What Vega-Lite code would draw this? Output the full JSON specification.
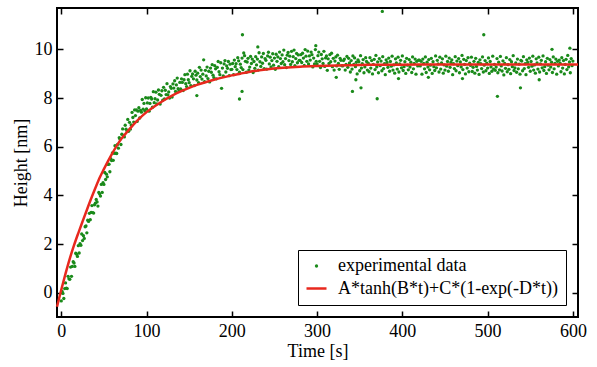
{
"$schema": "https://vega.github.io/schema/vega-lite/v6.json",
"width": 521, "height": 309,
"autosize": {"type": "none"},
"padding": {"left": 57, "top": 8, "right": 19, "bottom": 50},
"background": "white",
"config": {
  "view": {"stroke": "black", "strokeWidth": 2},
  "axis": {"labelFont": "Liberation Serif", "titleFont": "Liberation Serif", "labelFontSize": 18, "titleFontSize": 18, "titleFontWeight": "normal", "labelColor": "black", "titleColor": "black", "tickColor": "black", "tickWidth": 1.5, "grid": false, "domain": false},
  "legend": {"labelFont": "Liberation Serif", "labelFontSize": 18, "labelColor": "black", "labelLimit": 0, "title": null, "orient": "bottom-right", "offset": 12, "strokeColor": "black", "fillColor": "white", "padding": 7, "labelOffset": 10, "rowPadding": 2}
},
"datasets": {
"pts": [
{"t":0,"h":-0.34},{"t":1,"h":0.05},{"t":2,"h":-0.03},{"t":3,"h":-0.24},{"t":4,"h":0.17},{"t":5,"h":0.4},{"t":6,"h":0.19},{"t":7,"h":0.17},{"t":8,"h":0.67},{"t":9,"h":0.57},
{"t":10,"h":0.55},{"t":11,"h":1.05},{"t":12,"h":0.67},{"t":13,"h":1.08},{"t":14,"h":1.27},{"t":15,"h":1.22},{"t":16,"h":1.08},{"t":17,"h":1.62},{"t":18,"h":1.58},{"t":19,"h":1.49},
{"t":20,"h":1.93},{"t":21,"h":1.63},{"t":22,"h":2.01},{"t":23,"h":1.95},{"t":24,"h":2.41},{"t":25,"h":2.14},{"t":26,"h":2.34},{"t":27,"h":2.23},{"t":28,"h":2.71},{"t":29,"h":2.74},
{"t":30,"h":2.46},{"t":31,"h":2.98},{"t":32,"h":2.93},{"t":33,"h":3.26},{"t":34,"h":3.0},{"t":35,"h":3.3},{"t":36,"h":3.58},{"t":37,"h":3.29},{"t":38,"h":3.27},{"t":39,"h":3.61},
{"t":40,"h":3.68},{"t":41,"h":3.83},{"t":42,"h":3.73},{"t":43,"h":3.56},{"t":44,"h":4.12},{"t":45,"h":4.06},{"t":46,"h":3.97},{"t":47,"h":4.45},{"t":48,"h":4.12},{"t":49,"h":4.52},
{"t":50,"h":4.45},{"t":51,"h":4.94},{"t":52,"h":4.65},{"t":53,"h":4.87},{"t":54,"h":4.76},{"t":55,"h":5.27},{"t":56,"h":5.28},{"t":57,"h":4.97},{"t":58,"h":5.51},{"t":59,"h":5.43},
{"t":60,"h":5.74},{"t":61,"h":5.44},{"t":62,"h":5.73},{"t":63,"h":6.04},{"t":64,"h":5.73},{"t":65,"h":5.72},{"t":66,"h":6.09},{"t":67,"h":5.94},{"t":68,"h":6.37},{"t":69,"h":6.31},
{"t":70,"h":6.09},{"t":71,"h":6.51},{"t":72,"h":6.73},{"t":73,"h":6.46},{"t":74,"h":6.4},{"t":75,"h":6.88},{"t":76,"h":6.72},{"t":77,"h":6.66},{"t":78,"h":7.12},{"t":79,"h":6.63},
{"t":80,"h":7.0},{"t":81,"h":6.72},{"t":82,"h":6.89},{"t":83,"h":7.41},{"t":84,"h":7.2},{"t":85,"h":7.01},{"t":86,"h":7.51},{"t":87,"h":7.28},{"t":88,"h":7.51},{"t":89,"h":7.04},
{"t":90,"h":7.46},{"t":91,"h":7.6},{"t":92,"h":7.18},{"t":93,"h":7.49},{"t":94,"h":7.42},{"t":95,"h":7.94},{"t":96,"h":7.54},{"t":97,"h":7.78},{"t":98,"h":7.47},{"t":99,"h":8.01},
{"t":100,"h":7.55},{"t":101,"h":7.8},{"t":102,"h":8.0},{"t":103,"h":7.46},{"t":104,"h":7.78},{"t":105,"h":8.03},{"t":106,"h":7.96},{"t":107,"h":7.62},{"t":108,"h":8.26},{"t":109,"h":7.81},
{"t":110,"h":7.97},{"t":111,"h":8.24},{"t":112,"h":7.76},{"t":113,"h":7.92},{"t":114,"h":8.33},{"t":115,"h":8.15},{"t":116,"h":7.75},{"t":117,"h":8.11},{"t":118,"h":8.3},{"t":119,"h":7.91},
{"t":120,"h":8.44},{"t":121,"h":7.96},{"t":122,"h":8.32},{"t":123,"h":8.14},{"t":124,"h":8.59},{"t":125,"h":8.13},{"t":126,"h":8.25},{"t":127,"h":8.0},{"t":128,"h":8.47},{"t":129,"h":8.4},
{"t":130,"h":8.04},{"t":131,"h":8.58},{"t":132,"h":8.41},{"t":133,"h":8.71},{"t":134,"h":8.27},{"t":135,"h":8.54},{"t":136,"h":8.82},{"t":137,"h":8.38},{"t":138,"h":8.28},{"t":139,"h":8.64},
{"t":140,"h":8.37},{"t":141,"h":8.79},{"t":142,"h":8.64},{"t":143,"h":8.31},{"t":144,"h":8.75},{"t":145,"h":8.96},{"t":146,"h":8.59},{"t":147,"h":8.47},{"t":148,"h":8.98},{"t":149,"h":8.75},
{"t":150,"h":8.63},{"t":151,"h":9.12},{"t":152,"h":8.51},{"t":153,"h":8.89},{"t":154,"h":8.99},{"t":155,"h":8.79},{"t":156,"h":8.51},{"t":157,"h":9.1},{"t":158,"h":8.94},{"t":159,"h":8.74},
{"t":160,"h":9.02},{"t":161,"h":8.63},{"t":162,"h":9.26},{"t":163,"h":8.88},{"t":164,"h":9.15},{"t":165,"h":8.78},{"t":166,"h":8.98},{"t":167,"h":9.57},{"t":168,"h":8.67},{"t":169,"h":9.14},
{"t":170,"h":8.91},{"t":171,"h":9.27},{"t":172,"h":8.8},{"t":173,"h":9.1},{"t":174,"h":8.66},{"t":175,"h":9.23},{"t":176,"h":9.06},{"t":177,"h":9.37},{"t":178,"h":8.94},{"t":179,"h":8.84},
{"t":180,"h":9.33},{"t":181,"h":9.2},{"t":182,"h":8.79},{"t":183,"h":9.26},{"t":184,"h":9.5},{"t":185,"h":9.08},{"t":186,"h":8.96},{"t":187,"h":9.45},{"t":188,"h":8.4},{"t":189,"h":9.23},
{"t":190,"h":8.91},{"t":191,"h":9.4},{"t":192,"h":9.54},{"t":193,"h":9.07},{"t":194,"h":9.32},{"t":195,"h":9.22},{"t":196,"h":9.5},{"t":197,"h":8.92},{"t":198,"h":9.39},{"t":199,"h":9.17},
{"t":200,"h":9.18},{"t":201,"h":9.42},{"t":202,"h":8.96},{"t":203,"h":9.56},{"t":204,"h":9.29},{"t":205,"h":9.41},{"t":206,"h":9.17},{"t":207,"h":9.66},{"t":208,"h":9.53},{"t":209,"h":9.06},
{"t":210,"h":9.39},{"t":211,"h":9.25},{"t":212,"h":9.64},{"t":213,"h":9.17},{"t":214,"h":9.85},{"t":215,"h":9.74},{"t":216,"h":9.51},{"t":217,"h":9.06},{"t":218,"h":9.48},{"t":219,"h":9.63},
{"t":220,"h":9.15},{"t":221,"h":9.27},{"t":222,"h":9.71},{"t":223,"h":9.42},{"t":224,"h":9.6},{"t":225,"h":9.05},{"t":226,"h":9.5},{"t":227,"h":9.22},{"t":228,"h":9.7},{"t":229,"h":9.36},
{"t":230,"h":9.6},{"t":231,"h":9.15},{"t":232,"h":9.86},{"t":233,"h":9.49},{"t":234,"h":9.3},{"t":235,"h":9.69},{"t":236,"h":9.43},{"t":237,"h":9.83},{"t":238,"h":9.21},{"t":239,"h":9.62},
{"t":240,"h":9.55},{"t":241,"h":9.19},{"t":242,"h":9.73},{"t":243,"h":9.88},{"t":244,"h":9.4},{"t":245,"h":9.68},{"t":246,"h":9.28},{"t":247,"h":9.54},{"t":248,"h":9.82},{"t":249,"h":9.35},
{"t":250,"h":9.64},{"t":251,"h":9.18},{"t":252,"h":9.8},{"t":253,"h":9.51},{"t":254,"h":9.69},{"t":255,"h":9.29},{"t":256,"h":9.89},{"t":257,"h":9.62},{"t":258,"h":9.42},{"t":259,"h":9.77},
{"t":260,"h":9.49},{"t":261,"h":9.97},{"t":262,"h":9.37},{"t":263,"h":9.62},{"t":264,"h":9.25},{"t":265,"h":9.76},{"t":266,"h":9.87},{"t":267,"h":9.54},{"t":268,"h":9.72},{"t":269,"h":9.38},
{"t":270,"h":9.92},{"t":271,"h":9.49},{"t":272,"h":9.7},{"t":273,"h":9.97},{"t":274,"h":9.33},{"t":275,"h":9.62},{"t":276,"h":9.83},{"t":277,"h":9.45},{"t":278,"h":9.77},{"t":279,"h":9.55},
{"t":280,"h":9.55},{"t":281,"h":9.78},{"t":282,"h":9.46},{"t":283,"h":9.84},{"t":284,"h":9.64},{"t":285,"h":9.34},{"t":286,"h":9.99},{"t":287,"h":9.72},{"t":288,"h":9.51},{"t":289,"h":9.93},
{"t":290,"h":9.4},{"t":291,"h":9.73},{"t":292,"h":9.56},{"t":293,"h":9.89},{"t":294,"h":9.78},{"t":295,"h":9.28},{"t":296,"h":9.64},{"t":297,"h":9.4},{"t":298,"h":9.99},{"t":299,"h":9.51},
{"t":300,"h":9.4},{"t":301,"h":9.74},{"t":302,"h":9.89},{"t":303,"h":9.51},{"t":304,"h":9.25},{"t":305,"h":9.79},{"t":306,"h":9.61},{"t":307,"h":9.42},{"t":308,"h":9.92},{"t":309,"h":9.3},
{"t":310,"h":9.65},{"t":311,"h":9.73},{"t":312,"h":9.14},{"t":313,"h":9.61},{"t":314,"h":9.42},{"t":315,"h":9.78},{"t":316,"h":9.49},{"t":317,"h":9.84},{"t":318,"h":9.29},{"t":319,"h":9.63},
{"t":320,"h":9.15},{"t":321,"h":9.52},{"t":322,"h":9.69},{"t":323,"h":9.32},{"t":324,"h":9.76},{"t":325,"h":9.42},{"t":326,"h":9.18},{"t":327,"h":9.63},{"t":328,"h":9.55},{"t":329,"h":9.33},
{"t":330,"h":9.32},{"t":331,"h":9.54},{"t":332,"h":9.6},{"t":333,"h":9.15},{"t":334,"h":9.38},{"t":335,"h":9.71},{"t":336,"h":9.26},{"t":337,"h":9.63},{"t":338,"h":9.44},{"t":339,"h":9.07},
{"t":340,"h":9.54},{"t":341,"h":9.19},{"t":342,"h":9.73},{"t":343,"h":9.38},{"t":344,"h":9.65},{"t":345,"h":9.29},{"t":346,"h":9.47},{"t":347,"h":8.99},{"t":348,"h":9.57},{"t":349,"h":9.49},
{"t":350,"h":9.12},{"t":351,"h":9.74},{"t":352,"h":9.23},{"t":353,"h":9.41},{"t":354,"h":9.58},{"t":355,"h":9.04},{"t":356,"h":9.28},{"t":357,"h":9.66},{"t":358,"h":9.5},{"t":359,"h":9.15},
{"t":360,"h":9.43},{"t":361,"h":9.08},{"t":362,"h":9.66},{"t":363,"h":9.23},{"t":364,"h":9.54},{"t":365,"h":8.99},{"t":366,"h":9.38},{"t":367,"h":9.59},{"t":368,"h":9.17},{"t":369,"h":9.75},
{"t":370,"h":9.28},{"t":371,"h":9.48},{"t":372,"h":9.04},{"t":373,"h":9.62},{"t":374,"h":9.33},{"t":375,"h":9.52},{"t":376,"h":9.12},{"t":377,"h":9.7},{"t":378,"h":9.21},{"t":379,"h":9.41},
{"t":380,"h":8.96},{"t":381,"h":9.57},{"t":382,"h":9.46},{"t":383,"h":9.26},{"t":384,"h":9.64},{"t":385,"h":9.1},{"t":386,"h":9.5},{"t":387,"h":9.31},{"t":388,"h":9.72},{"t":389,"h":9.15},
{"t":390,"h":9.36},{"t":391,"h":9.02},{"t":392,"h":9.61},{"t":393,"h":9.44},{"t":394,"h":9.19},{"t":395,"h":9.68},{"t":396,"h":9.07},{"t":397,"h":9.4},{"t":398,"h":9.55},{"t":399,"h":9.24},
{"t":400,"h":9.73},{"t":401,"h":9.13},{"t":402,"h":9.29},{"t":403,"h":9.49},{"t":404,"h":9.01},{"t":405,"h":9.63},{"t":406,"h":9.35},{"t":407,"h":9.16},{"t":408,"h":9.58},{"t":409,"h":9.27},
{"t":410,"h":9.47},{"t":411,"h":9.05},{"t":412,"h":9.69},{"t":413,"h":9.2},{"t":414,"h":9.42},{"t":415,"h":9.6},{"t":416,"h":8.98},{"t":417,"h":9.51},{"t":418,"h":9.32},{"t":419,"h":9.56},
{"t":420,"h":9.56},{"t":421,"h":9.32},{"t":422,"h":9.51},{"t":423,"h":8.98},{"t":424,"h":9.6},{"t":425,"h":9.42},{"t":426,"h":9.2},{"t":427,"h":9.69},{"t":428,"h":9.05},{"t":429,"h":9.47},
{"t":430,"h":9.27},{"t":431,"h":9.58},{"t":432,"h":9.16},{"t":433,"h":9.35},{"t":434,"h":9.63},{"t":435,"h":9.01},{"t":436,"h":9.49},{"t":437,"h":9.29},{"t":438,"h":9.13},{"t":439,"h":9.73},
{"t":440,"h":9.24},{"t":441,"h":9.55},{"t":442,"h":9.4},{"t":443,"h":9.07},{"t":444,"h":9.68},{"t":445,"h":9.19},{"t":446,"h":9.44},{"t":447,"h":9.61},{"t":448,"h":9.02},{"t":449,"h":9.36},
{"t":450,"h":9.15},{"t":451,"h":9.72},{"t":452,"h":9.31},{"t":453,"h":9.5},{"t":454,"h":9.1},{"t":455,"h":9.64},{"t":456,"h":9.26},{"t":457,"h":9.46},{"t":458,"h":9.57},{"t":459,"h":8.96},
{"t":460,"h":9.41},{"t":461,"h":9.21},{"t":462,"h":9.7},{"t":463,"h":9.12},{"t":464,"h":9.52},{"t":465,"h":9.33},{"t":466,"h":9.62},{"t":467,"h":9.04},{"t":468,"h":9.48},{"t":469,"h":9.28},
{"t":470,"h":9.75},{"t":471,"h":9.17},{"t":472,"h":9.59},{"t":473,"h":9.38},{"t":474,"h":8.99},{"t":475,"h":9.54},{"t":476,"h":9.23},{"t":477,"h":9.66},{"t":478,"h":9.08},{"t":479,"h":9.43},
{"t":480,"h":9.34},{"t":481,"h":9.68},{"t":482,"h":9.09},{"t":483,"h":9.26},{"t":484,"h":9.51},{"t":485,"h":9.02},{"t":486,"h":9.63},{"t":487,"h":9.3},{"t":488,"h":9.15},{"t":489,"h":9.46},
{"t":490,"h":8.97},{"t":491,"h":9.57},{"t":492,"h":9.41},{"t":493,"h":9.21},{"t":494,"h":9.69},{"t":495,"h":9.07},{"t":496,"h":9.35},{"t":497,"h":9.54},{"t":498,"h":9.12},{"t":499,"h":9.43},
{"t":500,"h":9.23},{"t":501,"h":9.65},{"t":502,"h":9.01},{"t":503,"h":9.5},{"t":504,"h":9.28},{"t":505,"h":9.1},{"t":506,"h":9.72},{"t":507,"h":9.19},{"t":508,"h":9.38},{"t":509,"h":9.14},
{"t":510,"h":9.27},{"t":511,"h":9.62},{"t":512,"h":9.04},{"t":513,"h":9.47},{"t":514,"h":9.16},{"t":515,"h":9.71},{"t":516,"h":9.32},{"t":517,"h":9.11},{"t":518,"h":9.53},{"t":519,"h":8.95},
{"t":520,"h":9.42},{"t":521,"h":9.22},{"t":522,"h":9.66},{"t":523,"h":9.08},{"t":524,"h":9.37},{"t":525,"h":9.18},{"t":526,"h":9.58},{"t":527,"h":9.0},{"t":528,"h":9.49},{"t":529,"h":9.29},
{"t":530,"h":9.74},{"t":531,"h":9.13},{"t":532,"h":9.24},{"t":533,"h":9.44},{"t":534,"h":9.06},{"t":535,"h":9.6},{"t":536,"h":9.2},{"t":537,"h":9.39},{"t":538,"h":8.98},{"t":539,"h":9.55},
{"t":540,"h":9.52},{"t":541,"h":9.12},{"t":542,"h":9.7},{"t":543,"h":9.21},{"t":544,"h":9.41},{"t":545,"h":8.96},{"t":546,"h":9.57},{"t":547,"h":9.46},{"t":548,"h":9.26},{"t":549,"h":9.64},
{"t":550,"h":9.1},{"t":551,"h":9.5},{"t":552,"h":9.31},{"t":553,"h":9.72},{"t":554,"h":9.15},{"t":555,"h":9.36},{"t":556,"h":9.02},{"t":557,"h":9.61},{"t":558,"h":9.44},{"t":559,"h":9.19},
{"t":560,"h":9.68},{"t":561,"h":9.07},{"t":562,"h":9.4},{"t":563,"h":9.55},{"t":564,"h":9.24},{"t":565,"h":9.73},{"t":566,"h":9.13},{"t":567,"h":9.29},{"t":568,"h":9.49},{"t":569,"h":9.01},
{"t":570,"h":9.63},{"t":571,"h":9.35},{"t":572,"h":9.16},{"t":573,"h":9.58},{"t":574,"h":9.27},{"t":575,"h":9.47},{"t":576,"h":9.05},{"t":577,"h":9.69},{"t":578,"h":9.2},{"t":579,"h":9.42},
{"t":580,"h":9.6},{"t":581,"h":8.98},{"t":582,"h":9.51},{"t":583,"h":9.32},{"t":584,"h":9.56},{"t":585,"h":9.43},{"t":586,"h":9.08},{"t":587,"h":9.66},{"t":588,"h":9.23},{"t":589,"h":9.54},
{"t":590,"h":8.99},{"t":591,"h":9.38},{"t":592,"h":9.59},{"t":593,"h":9.17},{"t":594,"h":9.75},{"t":595,"h":9.28},{"t":596,"h":9.48},{"t":597,"h":9.04},{"t":598,"h":9.62},{"t":599,"h":9.33},
{"t":600,"h":9.52},
{"t":159,"h":8.1},{"t":209,"h":7.96},{"t":212,"h":8.27},{"t":212.5,"h":10.6},{"t":341.5,"h":8.27},{"t":351.5,"h":8.42},{"t":370.5,"h":7.97},{"t":376.5,"h":11.56},{"t":495.5,"h":10.6},{"t":511.5,"h":8.07},{"t":538.5,"h":8.42},{"t":596.5,"h":10.05},
{"t":322.5,"h":8.85},{"t":345.5,"h":8.75},{"t":395.5,"h":8.8},{"t":430.5,"h":8.85},{"t":470.5,"h":8.8},{"t":560.5,"h":8.75},{"t":230.5,"h":10.1},{"t":298.5,"h":10.15},{"t":575.5,"h":10.0}
],
"fit": [
{"t":-5,"h":-0.58},{"t":0,"h":0.12},{"t":5,"h":0.78},{"t":10,"h":1.4},{"t":15,"h":1.95},{"t":20,"h":2.45},{"t":25,"h":2.93},{"t":30,"h":3.4},{"t":36,"h":3.95},{"t":40,"h":4.3},{"t":45,"h":4.72},{"t":50,"h":5.08},{"t":55,"h":5.42},{"t":60,"h":5.74},{"t":70,"h":6.3},{"t":80,"h":6.72},{"t":90,"h":7.1},{"t":100,"h":7.42},{"t":110,"h":7.67},{"t":120,"h":7.9},{"t":130,"h":8.1},{"t":140,"h":8.27},{"t":150,"h":8.42},{"t":160,"h":8.55},{"t":170,"h":8.66},{"t":180,"h":8.76},{"t":190,"h":8.85},{"t":200,"h":8.93},{"t":210,"h":9.0},{"t":220,"h":9.07},{"t":240,"h":9.17},{"t":260,"h":9.24},{"t":280,"h":9.29},{"t":300,"h":9.32},{"t":350,"h":9.36},{"t":400,"h":9.37},{"t":500,"h":9.38},{"t":606,"h":9.38}
]
},
"layer": [
{
  "data": {"name": "pts"},
  "mark": {"type": "point", "filled": true, "opacity": 1},
  "encoding": {
    "x": {"field": "t", "type": "quantitative", "scale": {"domain": [-5, 606], "nice": false, "zero": false},
      "axis": {"orient": "bottom", "values": [0,100,200,300,400,500,600], "tickSize": -6, "labelPadding": 11, "title": "Time [s]", "titlePadding": 2}},
    "y": {"field": "h", "type": "quantitative", "scale": {"domain": [-1, 11.7], "nice": false, "zero": false},
      "axis": {"orient": "left", "values": [0,2,4,6,8,10], "tickSize": -6, "labelPadding": 11, "title": "Height [nm]", "titlePadding": 4}},
    "color": {"datum": "experimental data", "type": "nominal",
      "scale": {"domain": ["experimental data", "A*tanh(B*t)+C*(1-exp(-D*t))"], "range": ["#1a8a1a", "#e8281e"]}},
    "shape": {"datum": "experimental data", "type": "nominal",
      "scale": {"domain": ["experimental data", "A*tanh(B*t)+C*(1-exp(-D*t))"], "range": ["circle", "stroke"]}},
    "size": {"datum": "experimental data", "type": "nominal",
      "scale": {"domain": ["experimental data", "A*tanh(B*t)+C*(1-exp(-D*t))"], "range": [11, 400]}},
    "strokeWidth": {"datum": "experimental data", "type": "nominal",
      "scale": {"domain": ["experimental data", "A*tanh(B*t)+C*(1-exp(-D*t))"], "range": [0, 2.5]}}
  }
},
{
  "data": {"name": "fit"},
  "mark": {"type": "line", "strokeWidth": 2.5, "interpolate": "monotone"},
  "encoding": {
    "x": {"field": "t", "type": "quantitative", "axis": {"orient": "top", "values": [0,100,200,300,400,500,600], "tickSize": -6, "labels": false, "title": null}},
    "y": {"field": "h", "type": "quantitative", "axis": {"orient": "right", "values": [0,2,4,6,8,10], "tickSize": -6, "labels": false, "title": null}},
    "color": {"datum": "A*tanh(B*t)+C*(1-exp(-D*t))", "type": "nominal"}
  }
}
],
"resolve": {"axis": {"x": "independent", "y": "independent"}}
}
